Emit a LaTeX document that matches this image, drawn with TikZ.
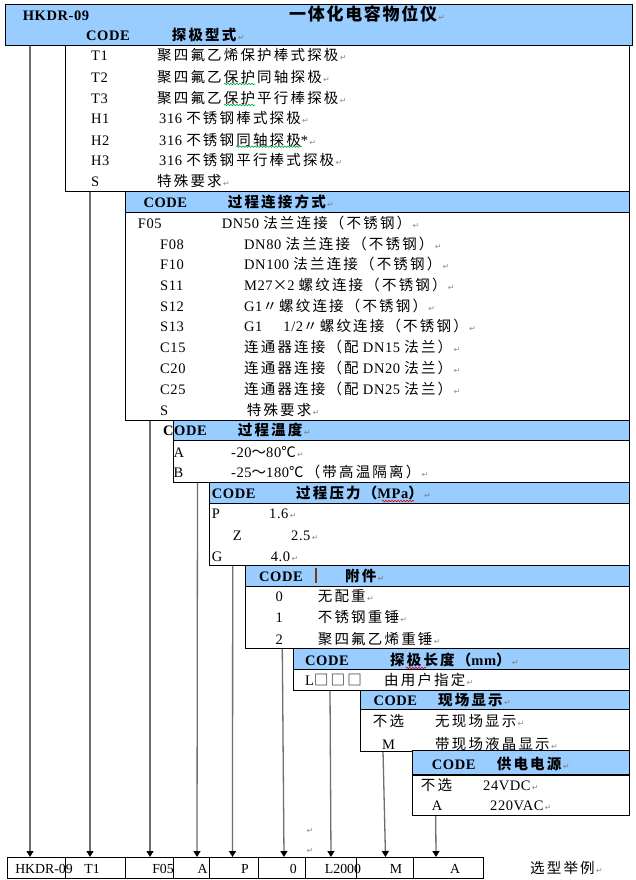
\documentclass[tikz,border=0pt]{standalone}
\usepackage{fontspec}
\setmainfont{Liberation Serif}[LetterSpace=4]
\newfontfamily\rowf{Liberation Serif}
\newfontfamily\cjk{Noto Sans CJK SC}[LetterSpace=15]
\newfontfamily\cjkt{Noto Sans CJK SC}[LetterSpace=10]
\newfontfamily\symf{DejaVu Sans}
\usetikzlibrary{arrows.meta,decorations.pathmorphing}
\definecolor{hdr}{RGB}{153,204,255}
\definecolor{retgray}{RGB}{140,140,140}
\definecolor{linegray}{RGB}{110,110,110}
\definecolor{spellgreen}{RGB}{0,170,60}
\definecolor{spellred}{RGB}{230,0,0}
\definecolor{barbrown}{RGB}{120,60,10}
\newcommand\zh[1]{{\cjk #1}}
\newcommand\ret{{\symf\color{retgray}\fontsize{8}{8}\selectfont\,↵}}
\newcounter{lblno}
\newcommand\lbl[3]{\stepcounter{lblno}\node[txt] (L\arabic{lblno}) at (#1,#2+5) {#3};}
\newcommand\clbl[3]{\stepcounter{lblno}\node[ctxt] (L\arabic{lblno}) at (#1,#2+5) {#3};}
\newcommand\rlbl[3]{\stepcounter{lblno}\node[rtxt] (L\arabic{lblno}) at (#1,#2+5) {#3};}
\begin{document}
\begin{tikzpicture}[x=1pt,y=-1pt,
  txt/.style={anchor=base west,inner sep=0pt,font=\fontsize{14.5}{16}\selectfont},
  ctxt/.style={anchor=base,inner sep=0pt,font=\fontsize{14.5}{16}\selectfont},
  rtxt/.style={anchor=base,inner sep=0pt,font=\rowf\fontsize{13.8}{15}\selectfont},
  hbox/.style={draw=black,line width=0.9pt,fill=hdr},
  bbox/.style={draw=black,line width=0.9pt,fill=white},
  cell/.style={draw=black,line width=0.8pt},
  conn/.style={draw=linegray,line width=1.3pt,-{Triangle[width=7pt,length=6pt,color=black]}},
  spellg/.style={draw=spellgreen,line width=0.6pt,decorate,decoration={snake,amplitude=0.8pt,segment length=3pt}},
  spellr/.style={draw=spellred,line width=0.6pt,decorate,decoration={snake,amplitude=0.8pt,segment length=3pt}}]
\useasboundingbox (0,0) rectangle (636,880);
\fill[white] (0,0) rectangle (636,880);

% ---------- connector start / end coordinates ----------
\coordinate (s1) at (30,45);    \coordinate (e1) at (30,857);
\coordinate (s2) at (90,191);   \coordinate (e2) at (90,857);
\coordinate (s3) at (150,420);  \coordinate (e3) at (150,857);
\coordinate (s4) at (197.5,482);\coordinate (e4) at (197,857);
\coordinate (s5) at (232.7,565);\coordinate (e5) at (232.5,857);
\coordinate (s6) at (282.3,648);\coordinate (e6) at (284,857);
\coordinate (s7) at (330,690);  \coordinate (e7) at (331,857);
\coordinate (s8) at (383,751);  \coordinate (e8) at (385.5,857);
\coordinate (s9) at (435.7,815);\coordinate (e9) at (436,857);
\foreach \i in {1,...,9} \draw[conn] (s\i) -- (e\i);

% ---------- top box ----------
\draw[hbox] (5,4) rectangle (632,45);
\lbl{22.7}{16}{\bfseries HKDR-09}
\lbl{289}{16}{\fontsize{17}{18}\selectfont\bfseries\cjkt 一体化电容物位仪\ret}
\lbl{86}{36}{\bfseries CODE}
\lbl{171.7}{36}{\bfseries\zh{探极型式}\ret}

% ---------- box 1 ----------
\draw[bbox] (65,45) rectangle (629.5,191);
\lbl{91}{56}{T1}      \lbl{157}{56}{\zh{聚四氟乙烯保护棒式探极}\ret}
\lbl{91}{77.3}{T2}    \lbl{157}{77.3}{\zh{聚四氟乙保护同轴探极}\ret}
\lbl{91}{98.3}{T3}    \lbl{157}{98.3}{\zh{聚四氟乙保护平行棒探极}\ret}
\lbl{91}{119}{H1}     \lbl{159}{119}{316 \zh{不锈钢棒式探极}\ret}
\lbl{91}{140}{H2}     \lbl{159}{140}{316 \zh{不锈钢同轴探极}*\ret}
\lbl{91}{160.7}{H3}   \lbl{159}{160.7}{316 \zh{不锈钢平行棒式探极}\ret}
\lbl{91}{181.7}{S}    \lbl{157}{181.7}{\zh{特殊要求}\ret}
\draw[spellg] (224,84) -- (255,84);
\draw[spellg] (224,105) -- (255,105);
\draw[spellg] (236,146.7) -- (302,146.7);

% ---------- box 2 ----------
\draw[hbox] (125.7,191) rectangle (629.5,212);
\draw[bbox] (125.7,212) rectangle (629.5,420);
\lbl{143.3}{202}{\bfseries CODE}
\lbl{227.7}{202}{\bfseries\zh{过程连接方式}\ret}
\lbl{137.7}{223.3}{F05}  \lbl{221.7}{223.3}{DN50 \zh{法兰连接（不锈钢）}\ret}
\lbl{160}{244}{F08}      \lbl{244}{244}{DN80 \zh{法兰连接（不锈钢）}\ret}
\lbl{160}{264}{F10}      \lbl{244}{264}{DN100 \zh{法兰连接（不锈钢）}\ret}
\lbl{160}{285}{S11}      \lbl{244}{285}{M27\zh{×}2 \zh{螺纹连接（不锈钢）}\ret}
\lbl{160}{306}{S12}      \lbl{244}{306}{G1\zh{〃螺纹连接（不锈钢）}\ret}
\lbl{160}{326.7}{S13}    \lbl{244}{326.7}{G1\hspace{21pt}1/2\zh{〃螺纹连接（不锈钢）}\ret}
\lbl{160}{347.7}{C15}    \lbl{244}{347.7}{\zh{连通器连接（配} DN15 \zh{法兰）}\ret}
\lbl{160}{368.3}{C20}    \lbl{244}{368.3}{\zh{连通器连接（配} DN20 \zh{法兰）}\ret}
\lbl{160}{389.3}{C25}    \lbl{244}{389.3}{\zh{连通器连接（配} DN25 \zh{法兰）}\ret}
\lbl{160}{410}{S}        \lbl{246.7}{410}{\zh{特殊要求}\ret}

% ---------- box 3 ----------
\draw[hbox] (173.3,420) rectangle (629.5,440);
\draw[bbox] (173.3,440) rectangle (629.5,482);
\lbl{163}{430.7}{\bfseries CODE}
\lbl{237.7}{430.7}{\bfseries\zh{过程温度}\ret}
\lbl{173.3}{452.7}{A}  \lbl{231}{452.7}{-20\zh{～}80\zh{℃}\ret}
\lbl{173.3}{472}{B}    \lbl{231}{472}{-25\zh{～}180\zh{℃（带高温隔离）}\ret}

% ---------- box 4 ----------
\draw[hbox] (209.3,482) rectangle (629.5,503);
\draw[bbox] (209.3,503) rectangle (629.5,565);
\lbl{211.7}{493}{\bfseries CODE}
\lbl{296}{493}{\bfseries\zh{过程压力（}MPa\zh{）}\ret}
\draw[spellr] (382,501) -- (414,501);
\lbl{211.7}{513}{P}   \lbl{269}{513}{1.6\ret}
\lbl{232.7}{535}{Z}   \lbl{291}{535}{2.5\ret}
\lbl{211.7}{556}{G}   \lbl{270.7}{556}{4.0\ret}

% ---------- box 5 ----------
\draw[hbox] (245.7,565) rectangle (629.5,586.7);
\draw[bbox] (245.7,586.7) rectangle (629.5,648);
\lbl{259}{576}{\bfseries CODE}
\draw[barbrown,line width=2pt] (315.7,567.5) -- (315.7,583);
\lbl{345}{576}{\bfseries\zh{附件}\ret}
\clbl{279.3}{596.7}{0}  \lbl{317.7}{596.7}{\zh{无配重}\ret}
\clbl{279.3}{617}{1}    \lbl{317.7}{617}{\zh{不锈钢重锤}\ret}
\clbl{279.3}{639}{2}    \lbl{317.7}{639}{\zh{聚四氟乙烯重锤}\ret}

% ---------- box 6 ----------
\draw[hbox] (293.3,648.3) rectangle (629.5,669.3);
\draw[bbox] (293.3,669.3) rectangle (629.5,690);
\lbl{305}{660}{\bfseries CODE}
\lbl{390}{660}{\bfseries\zh{探极长度（}mm\zh{）}\ret}
\draw[spellr] (406,668) -- (426,668);
\lbl{305}{680}{L\zh{□□□}}  \lbl{384}{680}{\zh{由用户指定}\ret}

% ---------- box 7 ----------
\draw[hbox] (360.7,690) rectangle (629.5,709.3);
\draw[bbox] (360.7,709.3) rectangle (629.5,751);
\lbl{373.3}{700.5}{\bfseries CODE}
\lbl{438}{700.5}{\bfseries\zh{现场显示}\ret}
\lbl{372.7}{721.7}{\zh{不选}}  \lbl{435}{721.7}{\zh{无现场显示}\ret}
\lbl{382}{744}{M}              \lbl{435}{744}{\zh{带现场液晶显示}\ret}

% ---------- box 8 ----------
\draw[hbox] (412.3,750.5) rectangle (629.5,775);
\draw[bbox] (412.3,775) rectangle (629.5,815);
\draw[line width=1.5pt] (412.3,750.5) -- (629.5,750.5);
\draw[line width=1.5pt] (412.3,775) -- (629.5,775);
\lbl{431.7}{764.5}{\bfseries CODE}
\lbl{496.7}{764.5}{\bfseries\zh{供电电源}\ret}
\lbl{420.7}{785}{\zh{不选}}  \lbl{483}{785}{24VDC\ret}
\lbl{431.7}{805.7}{A}        \lbl{490}{805.7}{220VAC\ret}

% ---------- stray paragraph marks ----------
\lbl{305}{828}{\ret}
\lbl{305}{848}{\ret}

% ---------- selection example row ----------
\draw[cell] (7.3,857) rectangle (483.3,878);
\foreach \x in {65.7,125.7,173.7,209.7,258,305.7,356.7,413.3}
  \draw[cell] (\x,857) -- (\x,878);
\rlbl{44}{868}{HKDR-09}
\rlbl{92}{868}{T1}
\rlbl{163}{868}{F05}
\rlbl{202.5}{868}{A}
\rlbl{245}{868}{P}
\rlbl{293.3}{868}{0}
\rlbl{343}{868}{L2000}
\rlbl{396}{868}{M}
\rlbl{455}{868}{A}
\lbl{530}{868}{\zh{选型举例}\ret}
\end{tikzpicture}
\end{document}
